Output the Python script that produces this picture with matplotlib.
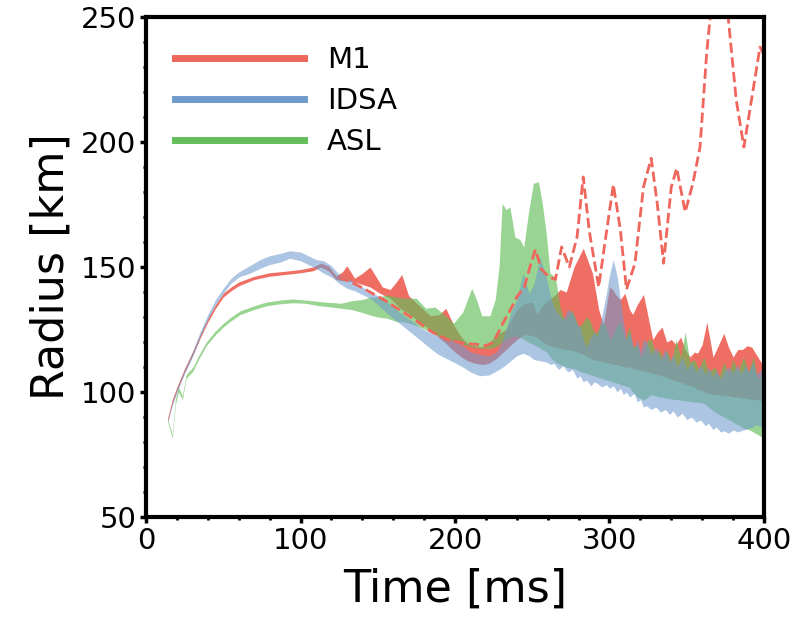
import matplotlib
matplotlib.use("Agg")
import matplotlib.pyplot as plt
from matplotlib.lines import Line2D
from matplotlib.ticker import MultipleLocator

# ---- data (time in ms, radius in km) ----
m1_t = [14, 17, 20, 25, 30, 35, 40, 45, 50, 55, 60, 70, 80, 90, 100, 108, 113, 118, 123, 127,
        130, 135, 140, 145, 150, 153, 158, 162, 165.5, 170, 177, 184, 190, 194, 199, 204, 208,
        213, 218, 222, 227, 233, 240, 245, 250, 253, 257, 261, 265, 268, 272, 277, 283, 289,
        293, 296, 300, 302, 304, 307, 310, 313, 315, 318, 322, 325, 328, 331, 334, 337, 340,
        343, 346, 349, 352, 355, 357, 360, 363, 365, 367, 370, 374, 377, 380, 383, 386, 389,
        392, 395, 398, 400]
m1_hi = [89.5, 97, 102, 109.5, 116, 123, 129.5, 135, 139.5, 142, 144, 146.3, 147.7, 148.3, 149,
         150, 151.5, 150.5, 146.5, 148, 150.5, 145.5, 147.5, 150, 145, 142, 141, 144, 147, 138.5,
         134.5, 130.5, 131, 133.5, 127, 122, 119.5, 118.5, 118, 119.5, 123, 125, 133, 135.5, 136,
         131, 135, 137, 139, 141, 140, 150, 157.5, 147.5, 133, 127, 142, 141, 139, 137, 139.5,
         133, 131, 135, 139, 130, 121, 124, 126, 120, 121, 119, 122, 117, 114, 116, 115.5, 119,
         128, 121, 114, 118, 123.5, 118, 114, 117, 117, 118.5, 118, 115, 112, 110]
m1_lo = [88, 95.5, 100.5, 108, 114.5, 121.5, 128, 133.5, 138, 140.5, 142.5, 145, 146.3, 147,
         147.7, 148.5, 150, 148.5, 145, 144.5, 144.5, 144, 143, 142, 140, 139, 137.5, 135, 133,
         131.5, 128, 125, 121.5, 119.5, 116.5, 114, 112.5, 111.5, 111, 111.5, 113.5, 117, 121,
         123, 122.5, 122, 120, 118.5, 118, 117.5, 117, 116.5, 115, 113, 112.5, 112, 111.5, 111,
         111, 110.5, 110, 110, 109.5, 109, 108.5, 108, 107.5, 107, 106.5, 106, 105, 104.5, 104,
         103, 102.5, 102, 101, 100.5, 99.5, 99.5, 99, 99, 98.5, 98.5, 98, 98, 97.5, 97.5, 97, 97,
         96.5, 96.5]

m1_max_t = [125, 136, 145, 155, 165, 175, 185, 195, 205, 215, 220, 225, 231, 236, 240, 245, 248,
            252, 256, 261, 265, 269, 274, 279, 283, 287, 293, 297, 302.5, 307, 311, 316.5, 322,
            327, 331, 335, 340, 343.5, 349, 354, 358.6, 362.9, 366, 371, 377, 382, 387, 393,
            397.4, 400]
m1_max = [146, 143, 140, 136.5, 132.5, 128.5, 124, 121, 119.5, 119, 118.5, 120, 127.5, 133, 138,
          142, 149, 157, 149, 146, 145, 158, 150, 162, 186, 164, 142, 159.5, 183, 165, 141, 151.5,
          182, 193.5, 175, 151.5, 182, 189.5, 172, 183.5, 198, 235.5, 255, 268, 248.8, 217, 198,
          221, 238, 235]

idsa_t = [14, 17, 20, 25, 30, 35, 40, 45, 50, 55, 60, 67, 74, 80, 87, 93, 100, 105, 110, 115,
          120, 125, 130, 135, 140, 145, 150, 156, 161, 167, 172, 177, 183, 188, 194, 199, 205,
          210, 216, 222, 227, 231, 236, 240, 244, 248, 251, 255, 259, 262, 264, 267, 270, 273,
          276, 279, 281, 283, 285, 288, 290, 292, 295, 298, 300, 302.5, 305, 307, 309, 311, 313,
          316, 318, 320, 322, 324, 327, 330, 333, 336, 339, 341, 344, 347, 350, 353, 356, 359,
          362, 364, 367, 369, 372, 374, 377, 380, 383, 385, 388, 390, 393, 395, 398, 400]
idsa_hi = [89, 96, 101.5, 109, 116, 124, 131, 137, 141.5, 145.5, 148, 150.5, 153, 154.5, 155.5,
           156.5, 156, 154.5, 153, 152.5, 150.5, 147, 145.5, 144, 142, 140, 138.5, 136, 133.5,
           130.5, 128.5, 126, 124, 122.5, 121.5, 120.5, 118.5, 116, 115, 114.5, 116, 121, 131.5,
           137, 147.5, 139.5, 143, 154, 146, 138, 134, 131, 129, 133, 131.5, 127, 126, 121, 118,
           122, 124, 122, 130, 139.5, 147, 153, 146, 137, 128, 121, 124, 117, 121, 116, 121, 120,
           115, 118, 113, 117, 112, 115, 110, 114, 109, 112, 108, 111, 107, 110, 106, 109, 105,
           108, 110, 107.5, 111, 107, 111, 108, 112, 107, 109, 104]
idsa_lo = [88, 94.5, 100, 107.5, 114, 122, 129, 135, 139.5, 143.5, 146, 147.5, 149.5, 151, 152,
           153.5, 152.5, 151, 149.5, 147.5, 146, 143.5, 141.5, 140.5, 139, 137.5, 135, 131.5, 129,
           126, 123.5, 121, 118, 115.5, 113.5, 112, 110, 108, 106.5, 106.8, 108.5, 110, 112.5,
           114.5, 115.5, 114.5, 113, 112.5, 112, 111, 111.5, 109, 110.5, 108, 109, 105.5, 106.5,
           104, 104.8, 102.5, 104, 103.5, 102, 103, 101.5, 102.5, 100, 101.5, 99, 100, 98, 99.5,
           96, 97, 94, 94.5, 93, 94, 92, 93, 91, 92.5, 90, 91.5, 89, 90, 88, 88.8, 86.5, 87.5, 85,
           86, 84, 84.5, 83.5, 84.8, 84, 84.5, 85, 85.5, 86, 87, 86, 88.5]

asl_t = [14, 17, 19, 21, 23.5, 26, 30.5, 34, 39, 45, 50, 55, 61, 70, 78, 87, 95, 103, 112, 120,
         126, 133, 140, 145, 150, 156, 162, 168, 175, 181, 187, 193, 199, 205, 210.8, 214, 217.3,
         222.6, 226, 228.5, 230.5, 233, 235.5, 238.8, 242, 244.5, 247.5, 250.7, 254, 256.5, 259.3,
         261.5, 265, 268, 270, 272, 275, 277, 280, 282, 285, 287, 290, 292, 295, 297, 300, 302,
         305, 307, 310, 313, 315, 318, 320, 322, 325, 327, 330, 332, 335, 337, 340, 343, 346, 349,
         352, 355, 358, 361, 364, 368, 371, 374, 377, 380, 383, 386.7, 390, 393, 396, 398.5, 400]
asl_hi = [89, 83, 97, 102, 98.5, 107, 110, 114.5, 120, 124.5, 127.5, 130, 132.5, 134.5, 136,
          136.8, 137.2, 136.8, 136.2, 135.8, 135.5, 136.5, 137, 138, 138, 138.8, 138, 137.5,
          137.5, 133.5, 134, 131, 127.5, 132, 141.5, 136.8, 130.5, 130.5, 137, 150, 175.5, 173,
          174, 162, 161, 158, 171.5, 183.5, 184.1, 175.5, 162, 147.5, 146, 134, 130, 128.8, 133,
          131, 126, 127, 130, 129, 124, 124, 128, 127, 121, 122.5, 127, 128, 121, 126, 118, 119,
          114, 116, 121, 121, 115, 117, 113, 117, 112, 121, 114, 124, 112, 113, 109, 114, 108, 110,
          106, 112, 107, 113, 108, 114, 108, 114, 105, 107.5, 106]
asl_lo = [88, 81.5, 95, 100, 97, 105.5, 108.5, 113, 118.5, 123, 126, 128.5, 131, 133, 134.5,
          135.3, 135.7, 135.5, 134.5, 134, 133.5, 133, 131.8, 130.8, 130, 129.5, 128.2, 128,
          126.5, 125, 123, 121.5, 120.8, 119, 118, 117.8, 117.5, 117.5, 118, 119, 120, 121, 122,
          122.5, 122, 121, 120, 119, 118, 117, 116, 114, 112, 111, 110.5, 110, 109.5, 109.5, 108.5,
          108, 107.5, 107, 106.5, 106, 105.5, 105, 104.5, 104, 103.5, 103, 102.5, 102, 100, 98,
          97.5, 96.8, 98, 99, 98.5, 98, 97.8, 97.5, 97.2, 97, 96.8, 96.5, 96.2, 96, 95.8, 95.5,
          94, 92, 91, 90, 89, 88, 87, 85.5, 85, 84, 83, 82, 82]

labels = ["M1", "IDSA", "ASL"]
colors = ["#ee665c", "#709bcd", "#64be5a"]

fig = plt.figure(figsize=(7.94, 6.17), dpi=100)
ax = fig.add_axes([0.1839, 0.1621, 0.7783, 0.8103])

# draw order: M1, ASL, IDSA (IDSA sits on top)
ax.fill_between(m1_t, m1_lo, m1_hi, color=colors[0], alpha=0.95, lw=0)
ax.fill_between(asl_t, asl_lo, asl_hi, color=colors[2], alpha=0.65, lw=0)
ax.fill_between(idsa_t, idsa_lo, idsa_hi, color=colors[1], alpha=0.58, lw=0)
ax.plot(m1_max_t, m1_max, ls="--", color=colors[0], lw=2)

ax.set_xlim(0, 400)
ax.set_ylim(50, 250)
ax.set_xticks([0, 100, 200, 300, 400])
ax.set_yticks([50, 100, 150, 200, 250])
ax.xaxis.set_minor_locator(MultipleLocator(20))
ax.yaxis.set_minor_locator(MultipleLocator(10))
ax.tick_params(which="major", direction="out", length=4, width=2.5, labelsize=21, pad=3)
ax.tick_params(which="minor", direction="out", length=2.5, width=2)
for sp in ax.spines.values():
    sp.set_linewidth(3)

ax.set_xlabel("Time [ms]", fontsize=32, labelpad=9)
ax.set_ylabel("Radius [km]", fontsize=32, labelpad=6)

handles = [Line2D([], [], color=c, lw=5) for c in colors]
ax.legend(handles, labels, loc="upper left", frameon=False, fontsize=21,
          handlelength=4.4, handletextpad=0.8, labelspacing=0.45,
          borderaxespad=0.6)

fig.savefig("out.png", dpi=100)
